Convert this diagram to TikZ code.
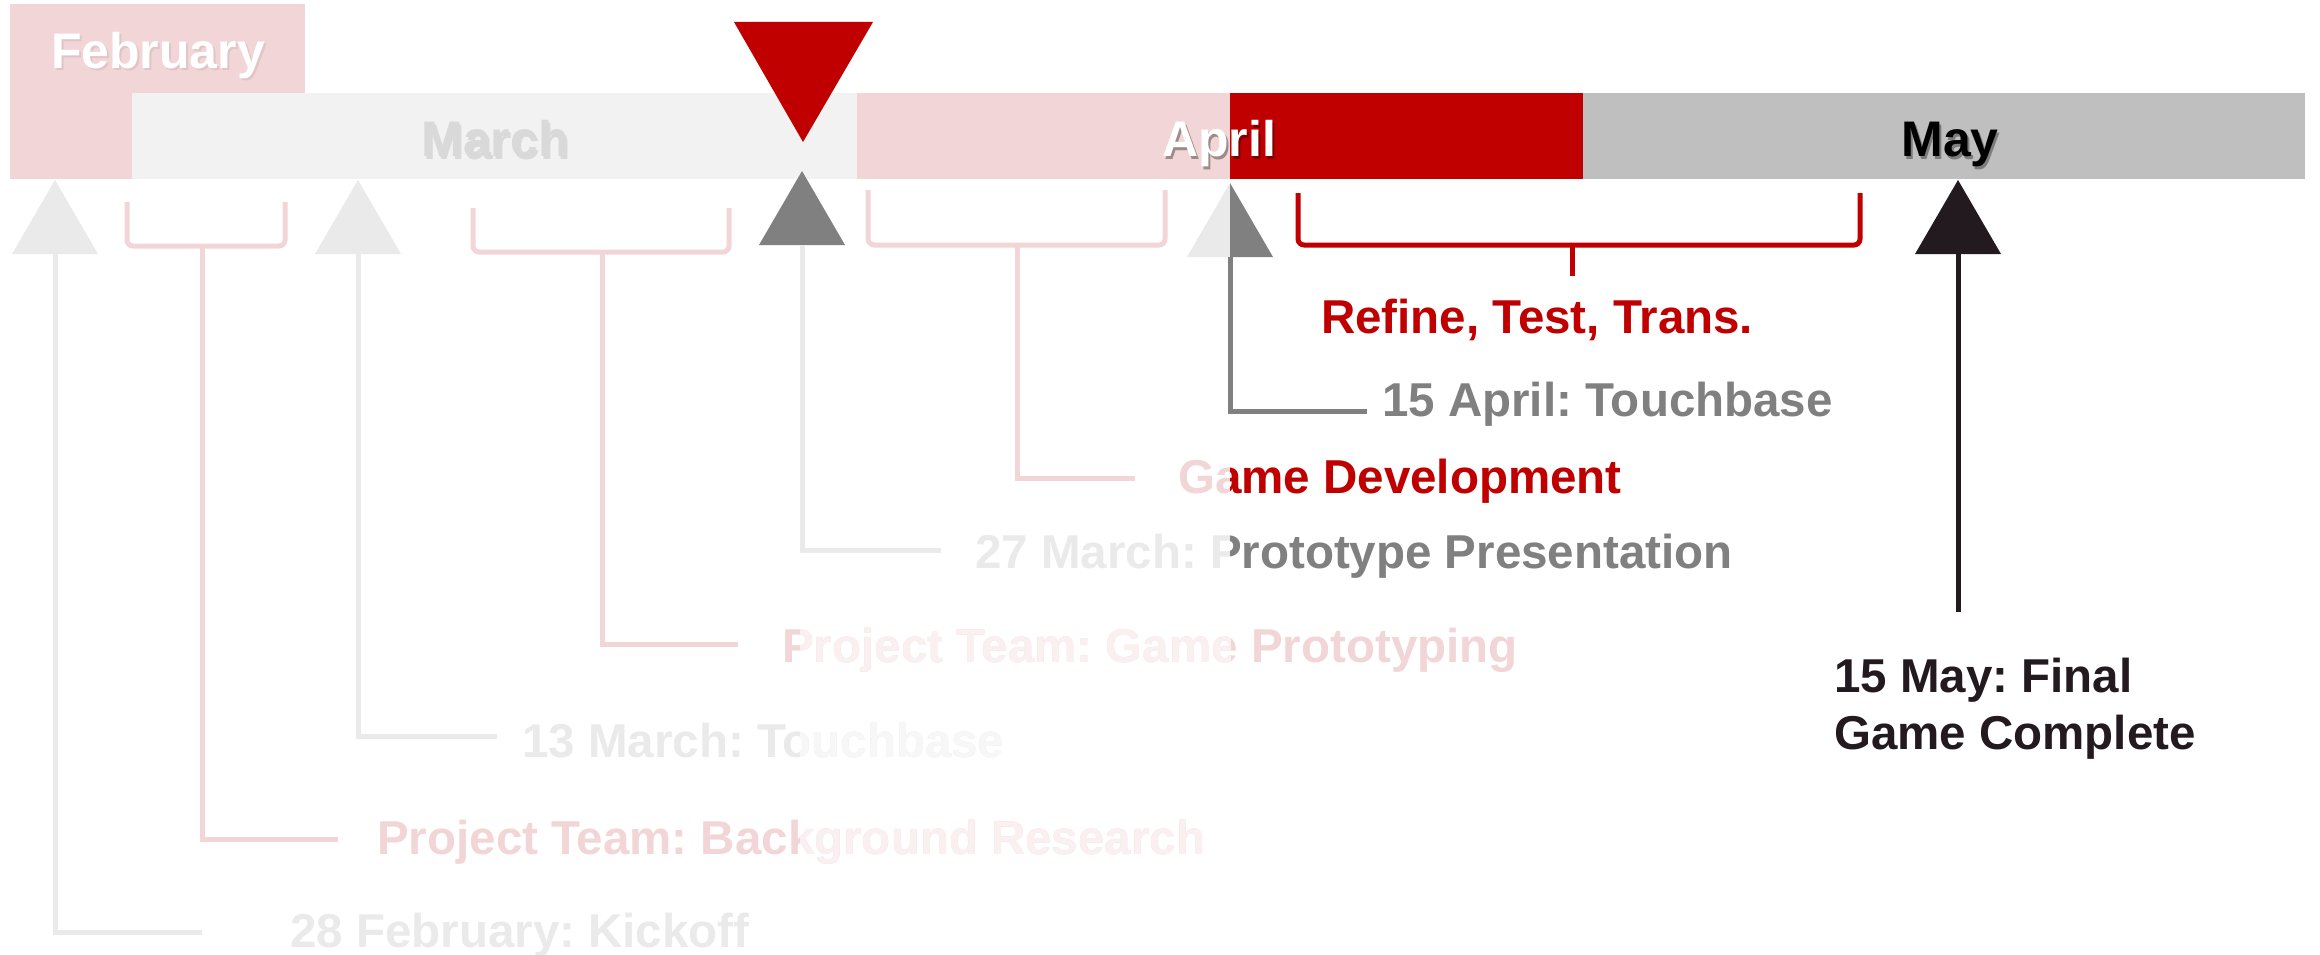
\documentclass[tikz,border=0pt]{standalone}
\usepackage{fontspec}
\setmainfont{Liberation Sans}
\frenchspacing
\definecolor{pinkL}{HTML}{F2D5D6}
\definecolor{pinkF}{HTML}{FBF0F0}
\definecolor{grayL}{HTML}{EAEAEA}
\definecolor{grayF}{HTML}{F7F7F7}
\definecolor{marchC}{HTML}{F2F2F2}
\definecolor{redD}{HTML}{C00000}
\definecolor{mayG}{HTML}{BFBFBF}
\definecolor{midG}{HTML}{808080}
\definecolor{darkK}{HTML}{231A20}
\definecolor{marchT}{HTML}{D9D9D9}
\begin{document}
\begin{tikzpicture}[x=1pt,y=-1pt,
  lbl/.style={anchor=base west, inner sep=0pt, font=\fontsize{47.5}{56}\selectfont\bfseries\frenchspacing},
  mon/.style={anchor=base, inner sep=0pt, font=\fontsize{50}{60}\selectfont\bfseries},
  conn/.style={line width=5pt},
  brk/.style={line width=5pt, rounded corners=6pt}]
\useasboundingbox[fill=white] (0,0) rectangle (2320,955);

% month bars
\fill[pinkL] (10,4) rectangle (305,179);
\fill[marchC] (132,93) rectangle (857,179);
\fill[pinkL] (857,93) rectangle (1230,179);
\fill[redD] (1230,93) rectangle (1583,179);
\fill[mayG] (1583,93) rectangle (2305,179);

% month labels
\node[mon, text=black, opacity=0.07] at (160,71) {February};
\node[mon, text=white] (feb) at (158,69) {February};
\node[mon, text=black, opacity=0.1] at (497,159) {March};
\node[mon, text=marchT] (mar) at (495,157) {March};
\node[mon, text=black, opacity=0.35] at (1221,159) {April};
\node[mon, text=white] (apr) at (1219,157) {April};
\node[mon, text=black, opacity=0.35] at (1952,159) {May};
\node[mon, text=black] (may) at (1950,157) {May};

% current marker
\fill[redD] (734,22) -- (873,22) -- (803,142) -- cycle;

% milestone triangles
\fill[grayL] (55,180) -- (98,254) -- (12,254) -- cycle;
\fill[grayL] (358,180) -- (401,254) -- (315,254) -- cycle;
\fill[midG] (802,171) -- (845,245) -- (759,245) -- cycle;
\fill[grayL] (1230,183) -- (1230,257) -- (1187,257) -- cycle;
\fill[midG] (1230,183) -- (1273,257) -- (1230,257) -- cycle;
\fill[darkK] (1958,180) -- (2001,254) -- (1915,254) -- cycle;

% brackets
\draw[brk, pinkL] (127,202) -- (127,246) -- (285,246) -- (285,202);
\draw[brk, pinkL] (473,208) -- (473,252) -- (729,252) -- (729,208);
\draw[brk, pinkL] (868,190) -- (868,245) -- (1165,245) -- (1165,190);
\draw[brk, redD] (1298,193) -- (1298,245) -- (1860,245) -- (1860,193);

% connector coordinates
\coordinate (kA) at (55,254);   \coordinate (kB) at (202,932);
\coordinate (bA) at (202,246);  \coordinate (bB) at (338,839);
\coordinate (mA) at (358,254);  \coordinate (mB) at (497,736);
\coordinate (pA) at (602,252);  \coordinate (pB) at (738,644);
\coordinate (rA) at (802,245);  \coordinate (rB) at (941,550);
\coordinate (gA) at (1017,245); \coordinate (gB) at (1135,478);
\coordinate (aA) at (1230,257); \coordinate (aB) at (1367,411);
\coordinate (fA) at (1572,245); \coordinate (fB) at (1572,276);
\coordinate (yA) at (1958,254); \coordinate (yB) at (1958,612);

\draw[conn, grayL] (kA) |- (kB);
\draw[conn, pinkL] (bA) |- (bB);
\draw[conn, grayL] (mA) |- (mB);
\draw[conn, pinkL] (pA) |- (pB);
\draw[conn, grayL] (rA) |- (rB);
\draw[conn, pinkL] (gA) |- (gB);
\draw[conn, midG] (aA) |- (aB);
\draw[conn, redD] (fA) -- (fB);
\draw[conn, darkK] (yA) -- (yB);

% labels
\node[lbl, text=grayL] (tkick) at (290,947) {28 February: Kickoff};

\node[lbl, text=pinkL] (tback) at (377,854) {Project Team: Background Research};
\begin{scope}
\clip (800,0) rectangle (1230,955);
\node[lbl, text=pinkF] (tbackF) at (377,854) {Project Team: Background Research};
\end{scope}

\node[lbl, text=grayL] (ttouch) at (522,757) {13 March: Touchbase};
\begin{scope}
\clip (800,0) rectangle (1230,955);
\node[lbl, text=grayF] (ttouchF) at (522,757) {13 March: Touchbase};
\end{scope}

\node[lbl, text=pinkL] (tproto) at (782,662) {Project Team: Game Prototyping};
\begin{scope}
\clip (800,0) rectangle (1230,955);
\node[lbl, text=pinkF] (tprotoF) at (782,662) {Project Team: Game Prototyping};
\end{scope}

\node[lbl, text=grayL] (tpres) at (975,568) {27 March: Prototype Presentation};
\begin{scope}
\clip (1230,0) rectangle (2320,955);
\node[lbl, text=midG] (tpresF) at (975,568) {27 March: Prototype Presentation};
\end{scope}

\node[lbl, text=pinkL] (tdev) at (1178,493) {Game Development};
\begin{scope}
\clip (1230,0) rectangle (2320,955);
\node[lbl, text=redD] (tdevF) at (1178,493) {Game Development};
\end{scope}

\node[lbl, text=midG] (tapr) at (1382,416) {15 April: Touchbase};
\node[lbl, anchor=base, text=redD] (tref) at (1537,333) {Refine, Test, Trans.};
\node[lbl, text=darkK] (tmay1) at (1834,692) {15 May: Final};
\node[lbl, text=darkK] (tmay2) at (1834,749) {Game Complete};
\end{tikzpicture}
\end{document}
